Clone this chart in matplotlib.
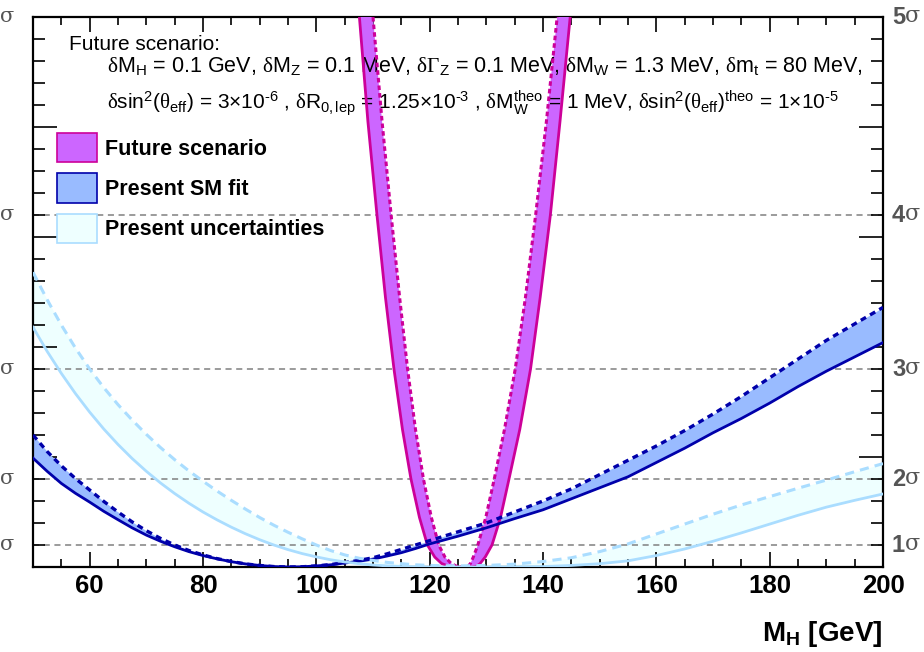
import numpy as np
import matplotlib.pyplot as plt
from matplotlib.patches import Patch
from matplotlib.ticker import MultipleLocator
import matplotlib.transforms as mtransforms

plt.rcParams['font.family'] = 'Liberation Sans'
plt.rcParams['mathtext.fontset'] = 'custom'
plt.rcParams['mathtext.rm'] = 'Liberation Sans'
plt.rcParams['mathtext.it'] = 'Liberation Sans:italic'
plt.rcParams['mathtext.bf'] = 'Liberation Sans:bold'
plt.rcParams['mathtext.cal'] = 'Liberation Serif'
plt.rcParams['mathtext.default'] = 'rm'

# M_H grid [GeV] for the present fits
mh = [50, 52.5, 55, 57.5, 60, 62.5, 65, 67.5, 70, 72.5, 75, 77.5, 80, 82.5, 85, 87.5,
      90, 92.5, 95, 97.5, 100, 102.5, 105, 107.5, 110, 112.5, 115, 117.5, 120,
      125, 130, 135, 140, 145, 150, 155, 160, 165, 170, 175, 180, 185, 190, 195, 200]

# present SM fit (solid / dashed edges), delta chi2
sm_solid = [4.95, 4.35, 3.8, 3.35, 2.95, 2.53, 2.15, 1.78, 1.45, 1.17, 0.92, 0.7, 0.52,
            0.37, 0.24, 0.14, 0.07, 0.02, 0.0, 0.01, 0.05, 0.1, 0.18, 0.26, 0.36, 0.5,
            0.65, 0.84, 1.05,
            1.4, 1.78, 2.2, 2.6, 3.1, 3.6, 4.1, 4.75, 5.4, 6.1, 6.75, 7.45, 8.2, 8.9,
            9.55, 10.2]
sm_dashed = [6.0, 5.25, 4.6, 4.02, 3.5, 2.98, 2.5, 2.05, 1.65, 1.3, 1.0, 0.75, 0.55,
             0.38, 0.25, 0.14, 0.07, 0.02, 0.0, 0.01, 0.05, 0.11, 0.2, 0.3, 0.42, 0.6,
             0.8, 1.0, 1.2,
             1.6, 2.0, 2.5, 3.0, 3.55, 4.2, 4.85, 5.5, 6.2, 6.95, 7.75, 8.6, 9.45, 10.3,
             11.05, 11.8]

# present uncertainties (solid / dashed edges)
unc_solid = [10.9, 9.8, 8.8, 7.88, 7.04, 6.27, 5.57, 4.93, 4.35, 3.82, 3.34, 2.9, 2.5,
             2.14, 1.81, 1.51, 1.24, 1.0, 0.79, 0.61, 0.46, 0.33, 0.23, 0.15, 0.09, 0.05,
             0.02, 0.01, 0.0,
             0.0, 0.0, 0.0, 0.02, 0.07, 0.15, 0.28, 0.52, 0.82, 1.17, 1.55, 1.95, 2.35,
             2.72, 3.03, 3.32]
unc_dashed = [13.4, 12.15, 11.0, 9.95, 9.0, 8.15, 7.38, 6.68, 6.03, 5.43, 4.88, 4.37, 3.9,
              3.45, 3.03, 2.63, 2.25, 1.9, 1.58, 1.28, 1.0, 0.75, 0.55, 0.4, 0.3, 0.21,
              0.15, 0.1, 0.07,
              0.05, 0.07, 0.13, 0.25, 0.42, 0.7, 1.05, 1.5, 1.95, 2.4, 2.82, 3.2, 3.58,
              3.95, 4.33, 4.7]

# future scenario (outer solid edge, inner dashed edge)
fut_solid_mh = [107.6, 109.1, 110.7, 112.2, 113.7, 115.2, 116.7, 118.2, 119.6, 120.9,
                122.1, 123.3, 124.5, 127.5, 128.3, 128.9, 129.8, 131.0, 132.5, 134.0,
                135.9, 137.8, 139.5, 141.3, 143.0, 144.8]
fut_solid = [25, 20.25, 16, 12.25, 9, 6.25, 4, 2.25, 1, 0.45, 0.16, 0.04, 0.0, 0.0,
             0.04, 0.16, 0.45, 1, 2.25, 4, 6.25, 9, 12.25, 16, 20.25, 25]
fut_dashed_mh = [110.0, 111.6, 113.2, 114.7, 116.1, 117.5, 118.9, 120.3, 121.6, 122.7,
                 123.8, 124.7, 125.5, 126.4, 126.8, 127.2, 127.7, 128.5, 129.9, 131.4,
                 133.2, 135.1, 136.9, 138.7, 140.6, 142.5]
fut_dashed = [25, 20.25, 16, 12.25, 9, 6.25, 4, 2.25, 1, 0.45, 0.16, 0.04, 0.0, 0.0,
              0.04, 0.16, 0.45, 1, 2.25, 4, 6.25, 9, 12.25, 16, 20.25, 25]

sigma_levels = [1, 4, 9, 16, 25]
sigma_names = ['1', '2', '3', '4', '5']

fig = plt.figure(figsize=(9.24, 6.52), dpi=100)
ax = fig.add_axes([33/924, 85/652, 850/924, 550/652])

ax.fill_between(mh, unc_solid, unc_dashed, color='#eeffff', lw=0, zorder=1)
for s in sigma_levels[:-1]:
    ax.axhline(s, color='#808080', ls=(0, (4, 3)), lw=1.1, zorder=1.5)
ax.fill_between(mh, sm_solid, sm_dashed, color='#99bbff', lw=0, zorder=2)
ax.fill(np.r_[fut_solid_mh, fut_dashed_mh[::-1]], np.r_[fut_solid, fut_dashed[::-1]],
        color='#cc66ff', lw=0, zorder=3)

ax.plot(fut_solid_mh, fut_solid, color='#cc0099', lw=2, zorder=4)
ax.plot(fut_dashed_mh, fut_dashed, color='#cc0099', lw=2.2, ls=(0, (1.5, 1)), zorder=4)
ax.plot(mh, sm_solid, color='#0000aa', lw=2, zorder=5)
ax.plot(mh, sm_dashed, color='#0000aa', lw=2.4, ls=(0, (1.8, 1.4)), zorder=5)
ax.plot(mh, unc_solid, color='#aaddff', lw=2, zorder=5)
ax.plot(mh, unc_dashed, color='#aaddff', lw=2.2, ls=(0, (3, 2)), zorder=5)

ax.set_xlim(50, 200)
ax.set_ylim(0, 25)
ax.xaxis.set_major_locator(MultipleLocator(20))
ax.xaxis.set_minor_locator(MultipleLocator(5))
ax.yaxis.set_major_locator(MultipleLocator(5))
ax.yaxis.set_minor_locator(MultipleLocator(1))
ax.tick_params(which='both', direction='in', top=True, right=True, labelleft=False, width=1.2)
ax.tick_params(axis='x', which='major', length=11, labelsize=18.5, pad=5)
ax.tick_params(axis='x', which='minor', length=5.5)
ax.tick_params(axis='y', which='major', length=17)
ax.tick_params(axis='y', which='minor', length=8.5)
for lab in ax.get_xticklabels():
    lab.set_fontweight('bold')
for sp in ax.spines.values():
    sp.set_linewidth(1.6)

# sigma labels: bold digit + serif sigma on the right, sigma of the neighbour panel on the left
trans = mtransforms.blended_transform_factory(ax.transAxes, ax.transData)
trans_sig = mtransforms.offset_copy(trans, fig=fig, x=13, y=1, units='dots')
trans_left = mtransforms.offset_copy(trans, fig=fig, x=0, y=1, units='dots')
for s, n in zip(sigma_levels, sigma_names):
    ax.text(1 + 9/850, s, n, transform=trans, ha='left', va='center',
            fontsize=17, fontweight='bold', color='#555555', clip_on=False)
    ax.text(1 + 9/850, s, 'σ', transform=trans_sig, ha='left', va='center',
            fontsize=16, family='DejaVu Serif', color='#555555', clip_on=False)
    ax.text(-33/850, s, 'σ', transform=trans_left, ha='left', va='center',
            fontsize=15, family='DejaVu Serif', color='#555555', clip_on=False)

ax.text(0.042, 0.94, 'Future scenario:', transform=ax.transAxes, fontsize=15, va='baseline')
line2 = (r'$\mathcal{\delta}$M$_{\rm H}$ = 0.1 GeV, $\mathcal{\delta}$M$_{\rm Z}$ = 0.1 MeV, '
         r'$\mathcal{\delta\Gamma}_{\rm Z}$ = 0.1 MeV, $\mathcal{\delta}$M$_{\rm W}$ = 1.3 MeV, '
         r'$\mathcal{\delta}$m$_{\rm t}$ = 80 MeV,')
line3 = (r'$\mathcal{\delta}$sin$^{2}$($\mathcal{\theta}_{\rm eff}$) = 3×10$^{\text{-6}}$ , '
         r'$\mathcal{\delta}$R$_{\rm 0,lep}$ = 1.25×10$^{\text{-3}}$ , '
         r'$\mathcal{\delta}$M$_{\rm W}^{\rm theo}$ = 1 MeV, '
         r'$\mathcal{\delta}$sin$^{2}$($\mathcal{\theta}_{\rm eff}$)$^{\rm theo}$ = 1×10$^{\text{-5}}$')
ax.text(0.087, 0.90, line2, transform=ax.transAxes, fontsize=15.5, va='baseline')
ax.text(0.087, 0.832, line3, transform=ax.transAxes, fontsize=15, va='baseline')

handles = [Patch(fc='#cc66ff', ec='#cc0099', lw=1.2, label='Future scenario'),
           Patch(fc='#99bbff', ec='#0000aa', lw=1.2, label='Present SM fit'),
           Patch(fc='#eeffff', ec='#aaddff', lw=1.2, label='Present uncertainties')]
ax.legend(handles=handles, loc='upper left', bbox_to_anchor=((57-33)/850, (567-133)/550),
          frameon=False, borderaxespad=0, borderpad=0, handlelength=1.86, handleheight=1.7,
          labelspacing=0.53, handletextpad=0.37, prop={'weight': 'bold', 'size': 15.5})

fig.text(882/924, 1 - 641/652, r'M$_{\mathbf{H}}$ [GeV]', ha='right', va='baseline',
         fontsize=20, fontweight='bold')

fig.savefig('out.png', dpi=100)
